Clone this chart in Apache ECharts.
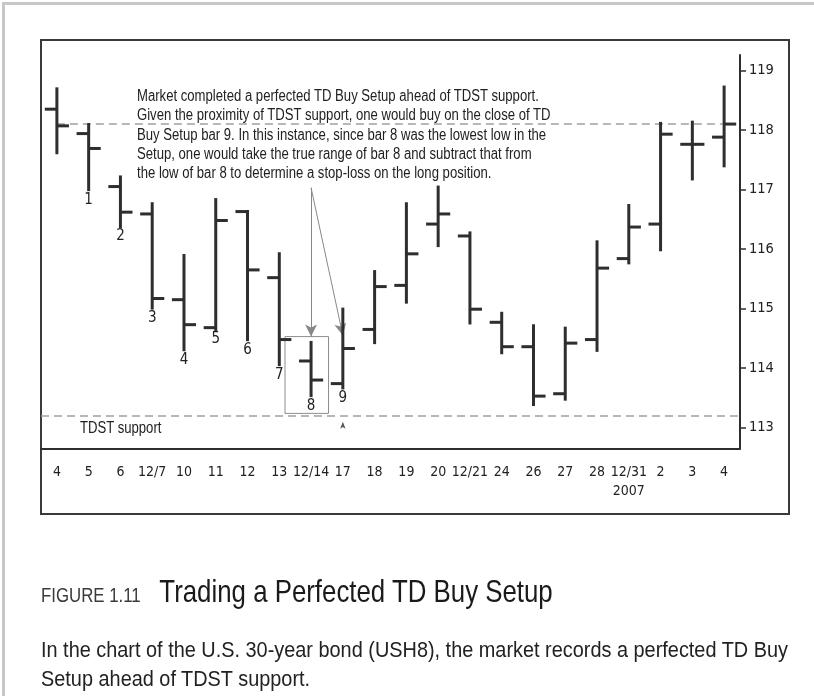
<!DOCTYPE html>
<html>
<head>
<meta charset="utf-8">
<title>Trading a Perfected TD Buy Setup</title>
<script src="https://cdn.jsdelivr.net/npm/echarts@6/dist/echarts.min.js"></script>
<style>
  html, body { margin: 0; padding: 0; background: #fff; }
  #page { position: relative; width: 814px; height: 696px; overflow: hidden; background: #fff;
          font-family: 'Liberation Sans', Arial, sans-serif; color: #222; }
  #edge { position: absolute; left: 2px; top: 2px; right: 0; bottom: 0;
          border-left: 3px solid #c8c8c8; border-top: 3px solid #c8c8c8; }
  #frame { position: absolute; left: 40px; top: 39px; width: 746px; height: 472px; border: 2px solid #3a3a3a; }
  #chart { position: absolute; left: 0; top: 0; width: 814px; height: 696px; }
  /* narrow look: Liberation Sans squeezed horizontally */
  .narrow { position: absolute; transform: scaleX(0.82); transform-origin: 0 0; white-space: pre; }
  #note { left: 137px; top: 86px; font-size: 16px; line-height: 19.3px; color: #222; }
  #tdst { left: 80px; top: 418px; font-size: 16px; line-height: 19px; color: #222; }
  #caption { left: 41px; top: 573px; }
  #caption .fig { font-size: 20.5px; color: #3a3a3a; }
  #caption .ttl { font-size: 31.5px; color: #1a1a1a; }
  #body { left: 41px; top: 636px; font-size: 21.5px; line-height: 29px; color: #222; }
</style>
</head>
<body>
<div id="page">
  <div id="edge"></div>
  <div id="frame"></div>
  <div id="chart"></div>
  <div id="note" class="narrow"></div>
  <div id="tdst" class="narrow">TDST support</div>
  <div id="caption" class="narrow"><span class="fig">FIGURE 1.11    </span><span class="ttl">Trading a Perfected TD Buy Setup</span></div>
  <div id="body" class="narrow"><span id="bodyL1">In the chart of the U.S. 30-year bond (USH8), the market records a perfected TD Buy</span>
Setup ahead of TDST support.</div>
</div>
<script>
// trading days (Dec 2006 - Jan 2007)
const dates = ['4', '5', '6', '12/7', '10', '11', '12', '13', '12/14', '17', '18',
               '19', '20', '12/21', '24', '26', '27', '28', '12/31', '2', '3', '4'];
const yearMarks = { 18: '2007' };

const opens  = [118.35, 117.94, 117.05, 116.59, 115.15, 114.68, 116.63, 115.52, 114.12, 113.74, 114.65,
                115.39, 116.42, 116.22, 114.77, 114.36, 113.57, 114.48, 115.84, 116.42, 117.76, 117.88];
const highs  = [118.70, 118.10, 117.22, 116.77, 115.90, 116.84, 116.64, 115.93, 114.44, 115.00, 115.63,
                116.77, 117.05, 116.28, 114.93, 114.72, 114.68, 116.13, 116.74, 118.12, 118.14, 118.73];
const lows   = [117.61, 116.99, 116.37, 115.00, 114.30, 114.64, 114.47, 114.05, 113.53, 113.66, 114.42,
                115.10, 116.05, 114.75, 114.25, 113.38, 113.47, 114.29, 115.76, 115.98, 117.17, 117.39];
const closes = [118.07, 117.69, 116.62, 115.17, 114.73, 116.48, 115.65, 114.48, 113.80, 114.33, 115.37,
                115.92, 116.59, 114.99, 114.36, 113.53, 114.42, 115.68, 116.37, 117.93, 117.76, 118.10];

// TD Buy Setup count under each bar
const setupCount = ['', '1', '2', '3', '4', '5', '6', '7', '8', '9', '',
                    '', '', '', '', '', '', '', '', '', '', ''];

const resistance = 118.10;   // upper dashed line
const tdstSupport = 113.20;  // TDST support

// annotation: arrows from the note to bar 8 box and bar 9
const noteAnchor = [8, 117.03];
const arrowTargets = [[8, 114.53], [9, 114.55]];
const boxBar = 8;
const boxRange = [113.24, 114.53];
const noteLines = [
  'Market completed a perfected TD Buy Setup ahead of TDST support.',
  'Given the proximity of TDST support, one would buy on the close of TD',
  'Buy Setup bar 9. In this instance, since bar 8 was the lowest low in the',
  'Setup, one would take the true range of bar 8 and subtract that from',
  'the low of bar 8 to determine a stop-loss on the long position.'
];
document.getElementById('note').textContent = noteLines.join('\n');

// body text: squeeze so the first line spans the frame width
const bodyEl = document.getElementById('body');
const natural = document.getElementById('bodyL1').getBoundingClientRect().width / 0.82;
bodyEl.style.transform = 'scaleX(' + (747 / natural).toFixed(4) + ')';

const FONT = "'DejaVu Sans Condensed', 'Liberation Sans', sans-serif";
const INK = '#2e2e2e';

const ohlcData = dates.map((d, i) => [i, opens[i], highs[i], lows[i], closes[i]]);

const chart = echarts.init(document.getElementById('chart'), null, { renderer: 'canvas' });

function renderBar(params, api) {
  const i = api.value(0);
  const o = api.coord([i, api.value(1)]);
  const h = api.coord([i, api.value(2)]);
  const l = api.coord([i, api.value(3)]);
  const c = api.coord([i, api.value(4)]);
  const tick = api.size([1, 0])[0] * 0.38;
  const st = { stroke: INK, lineWidth: 3 };
  const kids = [
    { type: 'line', shape: { x1: h[0], y1: h[1] - 1, x2: l[0], y2: l[1] + 1 }, style: st },
    { type: 'line', shape: { x1: o[0] - tick, y1: o[1], x2: o[0], y2: o[1] }, style: st },
    { type: 'line', shape: { x1: c[0], y1: c[1], x2: c[0] + tick, y2: c[1] }, style: st }
  ];
  const lab = setupCount[params.dataIndex];
  if (lab) {
    kids.push({
      type: 'text',
      style: { text: lab, x: l[0], y: l[1] + 2, align: 'center', verticalAlign: 'top',
               fontSize: 15, fontFamily: FONT, fill: '#222' }
    });
  }
  return { type: 'group', children: kids };
}

function renderBox(params, api) {
  const band = api.size([1, 0])[0];
  const top = api.coord([boxBar, boxRange[1]]);
  const bot = api.coord([boxBar, boxRange[0]]);
  const x0 = top[0] - band * 0.82;
  const x1 = top[0] + band * 0.55;
  return {
    type: 'rect',
    shape: { x: x0, y: top[1], width: x1 - x0, height: bot[1] - top[1] },
    style: { fill: 'none', stroke: '#8c8c8c', lineWidth: 1 }
  };
}

chart.setOption({
  animation: false,
  backgroundColor: 'transparent',
  grid: [
    { left: 41, right: 74, top: 55, bottom: 247.5 },
    { left: 41, right: 74, top: 70.5, bottom: 268.5 }
  ],
  xAxis: [
    {
      gridIndex: 0, type: 'category', data: dates, boundaryGap: true,
      axisLine: { lineStyle: { color: INK, width: 2 } },
      axisTick: { alignWithLabel: true, length: 7, lineStyle: { color: INK, width: 1.5 } },
      axisLabel: {
        interval: 0, margin: 14, fontSize: 14, lineHeight: 19, fontFamily: FONT, color: '#222',
        formatter: (v, idx) => yearMarks[idx] ? v + '\n' + yearMarks[idx] : v
      },
      splitLine: { show: false }
    },
    { gridIndex: 1, type: 'category', data: dates, show: false }
  ],
  yAxis: [
    {
      gridIndex: 0, type: 'value', position: 'right', min: 112.65, max: 119.26,
      axisLine: { show: true, lineStyle: { color: INK, width: 2 } },
      axisTick: { show: false }, axisLabel: { show: false }, splitLine: { show: false }
    },
    {
      gridIndex: 1, type: 'value', position: 'right', min: 113, max: 119, interval: 1,
      axisLine: { show: false },
      axisTick: { show: true, length: 6, lineStyle: { color: INK, width: 1.5 } },
      axisLabel: { margin: 9, fontSize: 14.5, fontFamily: FONT, color: '#222' },
      splitLine: { show: false }
    }
  ],
  series: [
    {
      type: 'custom', name: 'box', xAxisIndex: 0, yAxisIndex: 0,
      data: [[boxBar, boxRange[0], boxRange[1]]],
      renderItem: renderBox, silent: true, z: 1
    },
    {
      type: 'custom', name: 'USH8', xAxisIndex: 0, yAxisIndex: 0,
      data: ohlcData,
      encode: { x: 0, y: [1, 2, 3, 4] },
      renderItem: renderBar, z: 3,
      markLine: {
        silent: true, symbol: ['none', 'none'], label: { show: false }, z: 2,
        data: [
          [{ coord: [0, resistance], lineStyle: { color: '#a0a0a0', width: 1.5, type: [8, 5] } },
           { coord: [dates.length - 1, resistance] }],
          [{ yAxis: tdstSupport, x: 41, lineStyle: { color: '#a0a0a0', width: 1.5, type: [8, 5] } },
           { yAxis: tdstSupport, x: 740 }],
          [{ coord: noteAnchor, lineStyle: { color: '#888', width: 1, type: 'solid' } },
           { coord: arrowTargets[0], symbol: 'arrow', symbolSize: [9, 12] }],
          [{ coord: noteAnchor, lineStyle: { color: '#888', width: 1, type: 'solid' } },
           { coord: arrowTargets[1], symbol: 'arrow', symbolSize: [9, 12] }]
        ]
      },
      markPoint: {
        silent: true, label: { show: false },
        data: [{ coord: [9, 113.1], symbol: 'arrow', symbolSize: [4, 7], itemStyle: { color: '#555' } }]
      }
    }
  ]
});
</script>
</body>
</html>
